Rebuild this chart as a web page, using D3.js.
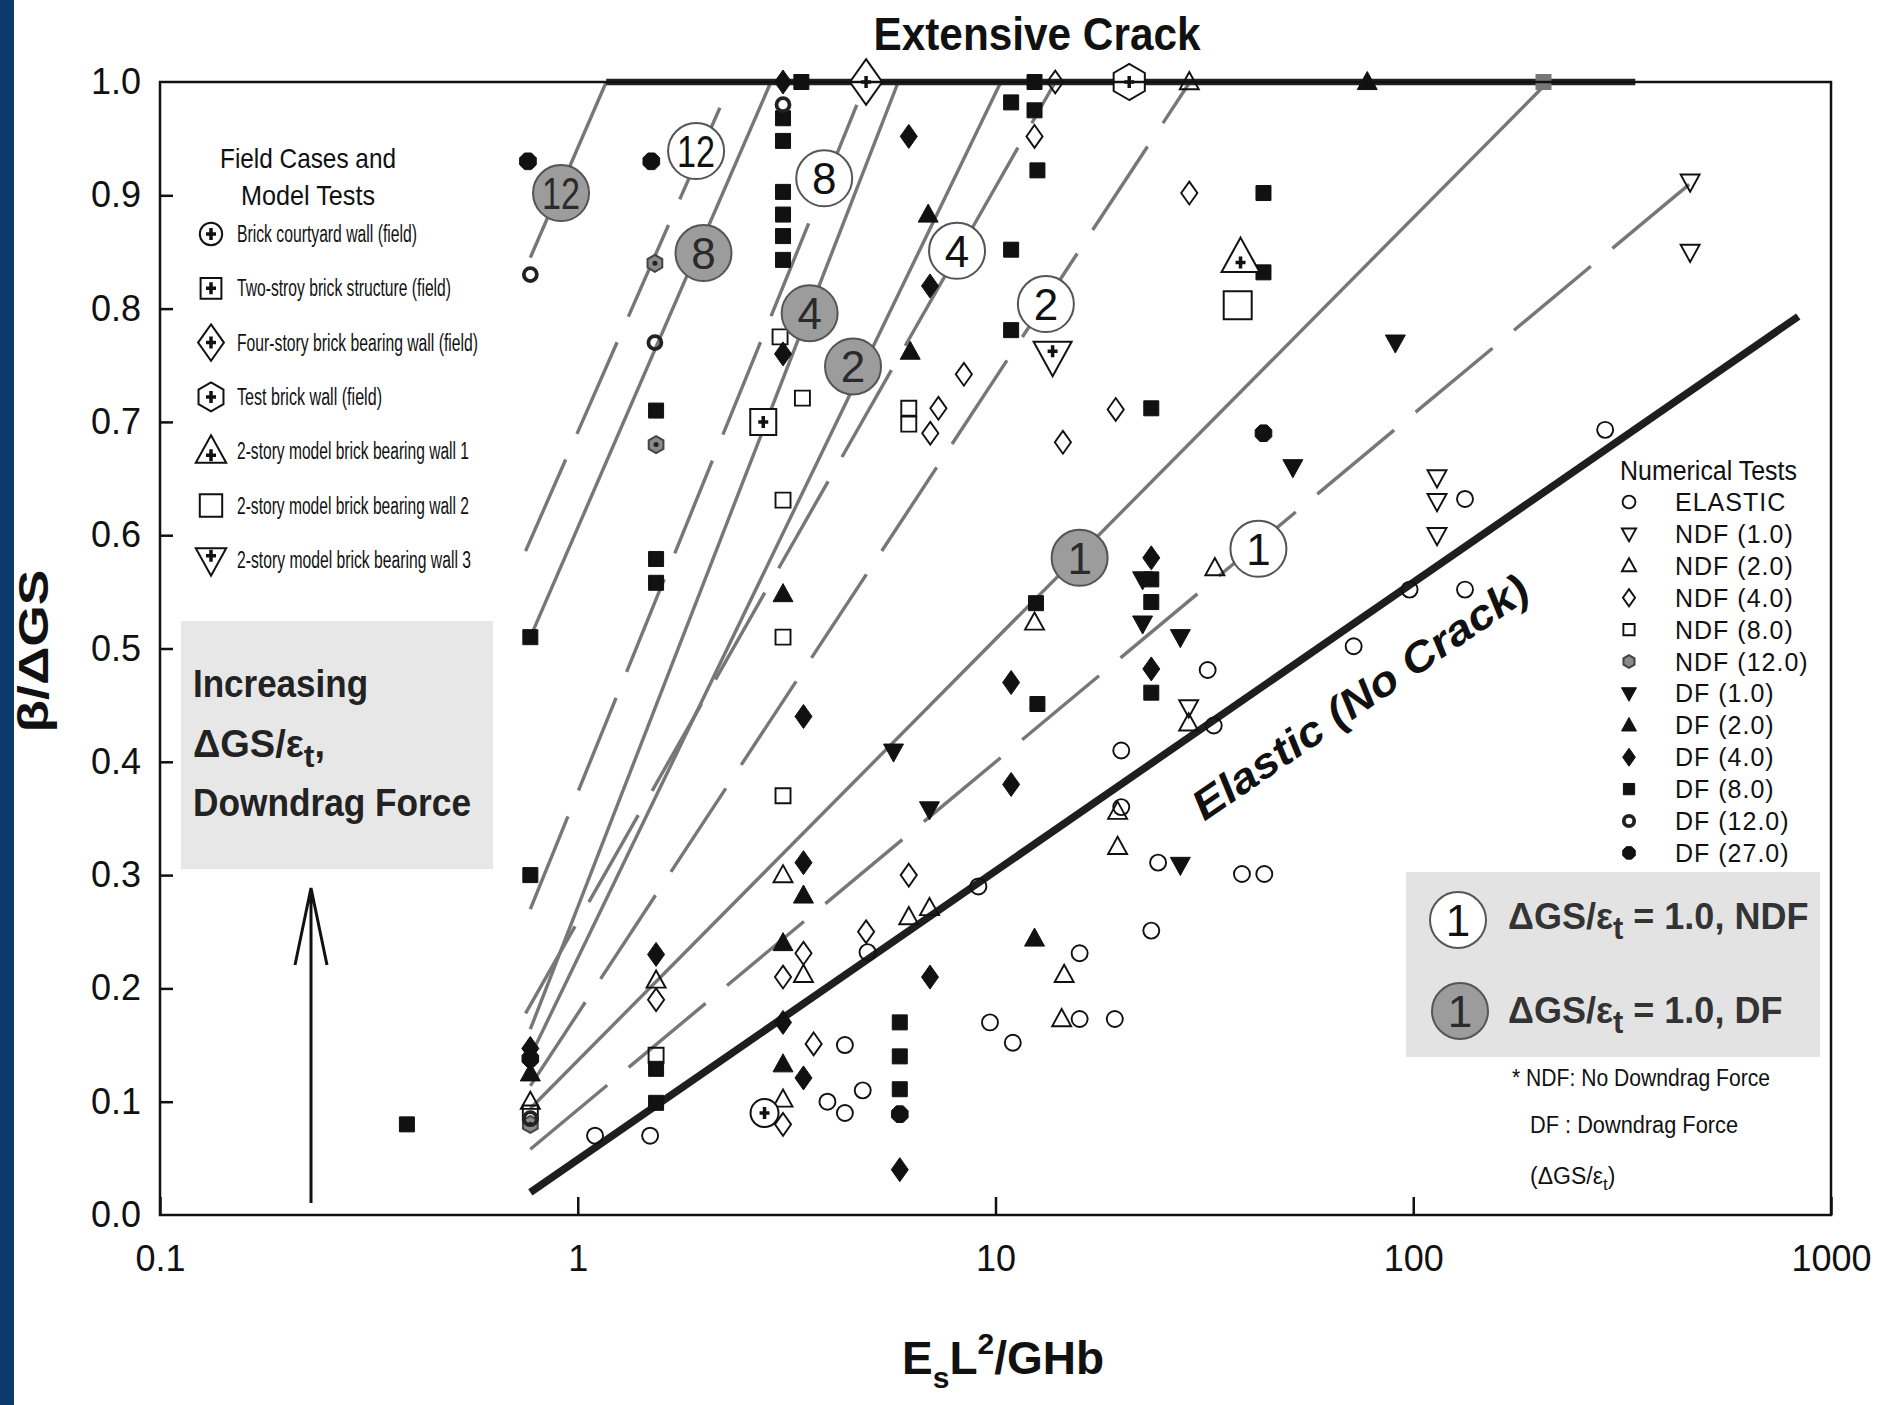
<!DOCTYPE html>
<html>
<head>
<meta charset="utf-8">
<script src="https://cdn.jsdelivr.net/npm/d3@7"></script>
<style>
  body { margin: 0; background: #fff; }
  svg { display: block; }
  text { font-family: "Liberation Sans", Arial, sans-serif; fill: #111; }
</style>
</head>
<body>
<div id="chart"></div>
<script>
// ---- data (E_sL^2/GHb, beta/dGS) ----
const elastic = [[1.10,0.07],[1.49,0.07],[3.96,0.10],[4.36,0.09],[4.81,0.11],[4.36,0.15],[4.94,0.232],[9.1,0.29],[9.7,0.17],[11.0,0.152],[15.9,0.231],[15.9,0.173],[19.3,0.173],[20.0,0.36],[20.0,0.41],[23.6,0.251],[24.5,0.311],[32.2,0.481],[33.3,0.432],[38.9,0.301],[44.0,0.301],[72,0.502],[98,0.552],[133,0.552],[133,0.632],[288,0.693]];
const ndf1 = [[29,0.448],[114,0.651],[114,0.63],[114,0.60],[460,0.912],[460,0.85]];
const ndf2 = [[0.77,0.10],[1.54,0.207],[3.1,0.30],[3.1,0.102],[3.47,0.212],[6.2,0.263],[6.95,0.271],[12.4,0.523],[14.6,0.212],[14.4,0.173],[19.6,0.356],[19.6,0.325],[29,0.434],[33.5,0.571],[29.1,1.0]];
const ndf4 = [[1.54,0.19],[3.1,0.21],[3.1,0.08],[3.47,0.231],[3.67,0.151],[4.9,0.25],[6.2,0.30],[6.98,0.69],[7.3,0.712],[8.4,0.742],[12.4,0.952],[13.9,1.0],[14.5,0.682],[19.4,0.711],[29.1,0.902]];
const ndf8 = [[0.77,0.09],[1.54,0.141],[3.1,0.37],[3.1,0.51],[3.1,0.631],[3.05,0.775],[3.45,0.721],[6.2,0.712],[6.2,0.698]];
const ndf12 = [[0.77,0.08],[1.53,0.84],[1.54,0.68]];
const df1 = [[5.7,0.409],[6.95,0.358],[22.5,0.561],[22.5,0.522],[27.7,0.51],[27.7,0.309],[51.5,0.66],[90.6,0.77]];
const df2 = [[0.77,0.125],[3.1,0.548],[3.1,0.24],[3.1,0.133],[3.47,0.282],[6.25,0.762],[6.9,0.883],[12.4,0.244],[77.6,1.0]];
const df4 = [[0.77,0.147],[1.54,0.23],[3.1,1.0],[3.1,0.76],[3.1,0.17],[3.47,0.44],[3.47,0.311],[3.47,0.121],[5.9,0.04],[6.2,0.952],[6.97,0.82],[6.97,0.21],[10.9,0.47],[10.9,0.38],[23.6,0.58],[23.6,0.482]];
const df8 = [[0.39,0.08],[0.77,0.51],[0.77,0.30],[1.54,0.71],[1.54,0.579],[1.54,0.558],[1.54,0.129],[1.54,0.099],[3.1,0.968],[3.1,0.948],[3.1,0.903],[3.1,0.883],[3.1,0.864],[3.1,0.843],[3.43,1.0],[5.9,0.17],[5.9,0.14],[5.9,0.111],[10.9,0.982],[10.9,0.852],[10.9,0.781],[12.4,1.0],[12.4,0.975],[12.6,0.922],[12.5,0.54],[12.6,0.451],[23.6,0.712],[23.6,0.561],[23.6,0.541],[23.6,0.461],[43.8,0.902],[43.8,0.832]];
const df12 = [[0.77,0.83],[0.77,0.085],[1.53,0.77],[3.1,0.98]];
const df27 = [[0.76,0.93],[1.5,0.93],[0.77,0.138],[5.9,0.089],[43.8,0.69]];
const lineEnds = [[205,1.0]];

const fieldCourtyard = [[2.8,0.09]];
const fieldTwoStory = [[2.78,0.70]];
const fieldFourStory = [[4.9,1.0]];
const fieldTestWall = [[20.9,1.0]];
const modelWall1 = [[38.6,0.845]];
const modelWall2 = [[38.0,0.803]];
const modelWall3 = [[13.7,0.758]];

// trend lines [x0, y0, x1, y1]
const dfLines  = [[0.77,0.845,1.17,1.0],[0.77,0.51,2.9,1.0],[0.77,0.164,5.85,1.0],[0.77,0.14,10.3,1.0],[0.77,0.094,210,1.0]];
const ndfLines = [[0.75,0.586,2.33,1.0],[0.77,0.27,4.9,1.0],[0.75,0.178,13.9,1.0],[0.77,0.114,29.2,1.0],[0.77,0.058,459,0.91]];
const elasticLine = [[0.77,0.02],[835,0.793]];
const crackLine = [[1.17,1.0],[340,1.0]];

// numbered circles [label, x, y]
const ndfLabels = [["12",1.92,0.939],["8",3.89,0.915],["4",8.09,0.851],["2",13.2,0.804],["1",42.6,0.588]];
const dfLabels  = [["12",0.912,0.902],["8",2.0,0.849],["4",3.59,0.796],["2",4.56,0.749],["1",15.9,0.580]];

const xTicks = [0.1, 1, 10, 100, 1000];
const yTicks = [0,0.1,0.2,0.3,0.4,0.5,0.6,0.7,0.8,0.9,1.0];

// ---- setup ----
const W = 1892, H = 1405;
const svg = d3.select("#chart").append("svg").attr("width", W).attr("height", H);

const x = d3.scaleLog().domain([0.1, 1000]).range([160, 1831]);
const y = d3.scaleLinear().domain([0, 1]).range([1215, 82]);

svg.append("rect").attr("x", 0).attr("y", 0).attr("width", 14).attr("height", H).attr("fill", "#0b3a6d");

// shaded boxes
svg.append("rect").attr("x", 181).attr("y", 621).attr("width", 312).attr("height", 248).attr("fill", "#e7e7e7");
svg.append("rect").attr("x", 1406).attr("y", 872).attr("width", 414).attr("height", 185).attr("fill", "#e3e3e3");

// marker shapes
function poly(n, r, rot) {
  const p = d3.range(n).map(i => {
    const a = rot + i * 2 * Math.PI / n;
    return [r * Math.cos(a), r * Math.sin(a)];
  });
  return "M" + p.map(d => d.join(",")).join("L") + "Z";
}
const shapes = {
  circle: r => `M${r},0A${r},${r} 0 1,1 ${-r},0A${r},${r} 0 1,1 ${r},0Z`,
  up: r => `M0,${-r}L${r*0.95},${r*0.72}L${-r*0.95},${r*0.72}Z`,
  down: r => `M0,${r}L${r*0.95},${-r*0.72}L${-r*0.95},${-r*0.72}Z`,
  diamond: r => `M0,${-r*1.2}L${r*0.85},0L0,${r*1.2}L${-r*0.85},0Z`,
  square: r => `M${-r},${-r}H${r}V${r}H${-r}Z`,
  hex: r => poly(6, r, 0),
  hexV: r => poly(6, r, Math.PI / 2),
  oct: r => poly(8, r, Math.PI / 8)
};

const series = [
  { name: "ELASTIC",    data: elastic, shape: "circle",  r: 8,    fill: "none", stroke: "#111", sw: 1.9 },
  { name: "NDF (1.0)",  data: ndf1,    shape: "down",    r: 10,   fill: "none", stroke: "#111", sw: 1.9 },
  { name: "NDF (2.0)",  data: ndf2,    shape: "up",      r: 10,   fill: "none", stroke: "#111", sw: 1.9 },
  { name: "NDF (4.0)",  data: ndf4,    shape: "diamond", r: 9.5,  fill: "none", stroke: "#111", sw: 1.9 },
  { name: "NDF (8.0)",  data: ndf8,    shape: "square",  r: 7.5,  fill: "none", stroke: "#111", sw: 1.9 },
  { name: "NDF (12.0)", data: ndf12,   shape: "hexV",    r: 8.5,  fill: "#8a8a8a", stroke: "#444", sw: 2 },
  { name: "DF (1.0)",   data: df1,     shape: "down",    r: 10.5, fill: "#111", stroke: "#111", sw: 1 },
  { name: "DF (2.0)",   data: df2,     shape: "up",      r: 10.5, fill: "#111", stroke: "#111", sw: 1 },
  { name: "DF (4.0)",   data: df4,     shape: "diamond", r: 10,   fill: "#111", stroke: "#111", sw: 1 },
  { name: "DF (8.0)",   data: df8,     shape: "square",  r: 7.5,  fill: "#111", stroke: "#111", sw: 1 },
  { name: "DF (12.0)",  data: df12,    shape: "circle",  r: 6.5,  fill: "none", stroke: "#222", sw: 3.8 },
  { name: "DF (27.0)",  data: df27,    shape: "oct",     r: 9,    fill: "#111", stroke: "#111", sw: 1 }
];

// ---- lines ----
const gl = svg.append("g").attr("fill", "none").attr("stroke-linecap", "butt");
const line = d3.line().x(d => x(d[0])).y(d => y(d[1]));

gl.selectAll(".df-line").data(dfLines).join("path")
  .attr("d", d => line([[d[0], d[1]], [d[2], d[3]]]))
  .attr("stroke", "#777").attr("stroke-width", 3.4);
gl.selectAll(".ndf-line").data(ndfLines).join("path")
  .attr("d", d => line([[d[0], d[1]], [d[2], d[3]]]))
  .attr("stroke", "#777").attr("stroke-width", 3.4)
  .attr("stroke-dasharray", "100,28");

gl.append("path").attr("d", line(elasticLine)).attr("stroke", "#1e1e1e").attr("stroke-width", 7.5);
gl.append("path").attr("d", line(crackLine)).attr("stroke", "#222").attr("stroke-width", 6.5);

// ---- markers ----
const gm = svg.append("g");
series.forEach(s => {
  gm.selectAll(null).data(s.data).join("path")
    .attr("transform", d => `translate(${x(d[0])},${y(d[1])})`)
    .attr("d", shapes[s.shape](s.r))
    .attr("fill", s.fill).attr("stroke", s.stroke).attr("stroke-width", s.sw);
  if (s.shape === "hexV") {
    gm.selectAll(null).data(s.data).join("circle")
      .attr("cx", d => x(d[0])).attr("cy", d => y(d[1])).attr("r", 2.5).attr("fill", "#222");
  }
});
gm.selectAll(null).data(lineEnds).join("path")
  .attr("transform", d => `translate(${x(d[0])},${y(d[1])})`)
  .attr("d", shapes.square(8)).attr("fill", "#777");

// field cases
const fieldTypes = [
  { label: "Brick courtyard wall (field)",        data: fieldCourtyard, shape: "circle",  r: 14, plus: true,  len: 180 },
  { label: "Two-stroy brick structure (field)",   data: fieldTwoStory,  shape: "square",  r: 13, plus: true,  len: 214 },
  { label: "Four-story brick bearing wall (field)", data: fieldFourStory, shape: "diamond", r: 19, plus: true, len: 241 },
  { label: "Test brick wall (field)",             data: fieldTestWall,  shape: "hexV",    r: 18, plus: true,  len: 145 },
  { label: "2-story model brick bearing wall 1",  data: modelWall1,     shape: "up",      r: 20, plus: true,  len: 232 },
  { label: "2-story model brick bearing wall 2",  data: modelWall2,     shape: "square",  r: 14, plus: false, len: 232 },
  { label: "2-story model brick bearing wall 3",  data: modelWall3,     shape: "down",    r: 20, plus: true,  len: 234 }
];
function drawField(g, f, cx, cy, scale) {
  const r = f.r * scale;
  const t = g.append("g").attr("transform", `translate(${cx},${cy})`);
  t.append("path").attr("d", shapes[f.shape](r)).attr("fill", "#fff").attr("stroke", "#111").attr("stroke-width", 2);
  if (f.plus) {
    const oy = f.shape === "up" ? r * 0.25 : (f.shape === "down" ? -r * 0.25 : 0);
    t.append("path").attr("d", `M-5,${oy}H5M0,${oy - 6}V${oy + 6}`)
      .attr("stroke", "#111").attr("stroke-width", 3.5);
  }
}
fieldTypes.forEach(f => f.data.forEach(d => drawField(gm, f, x(d[0]), y(d[1]), 1)));

// numbered circles
function drawLabels(data, fill) {
  const g = svg.append("g").selectAll("g").data(data).join("g")
    .attr("transform", d => `translate(${x(d[1])},${y(d[2])})`);
  g.append("circle").attr("r", 28).attr("fill", fill).attr("stroke", "#555").attr("stroke-width", 2);
  g.append("text").attr("text-anchor", "middle").attr("dy", "0.36em")
    .style("font-size", "44px").style("fill", fill === "#fff" ? "#111" : "#2a2a2a")
    .attr("textLength", d => d[0].length > 1 ? 38 : null)
    .attr("lengthAdjust", "spacingAndGlyphs")
    .text(d => d[0]);
}
drawLabels(ndfLabels, "#fff");
drawLabels(dfLabels, "#9c9c9c");

// ---- frame and axes ----
svg.append("rect").attr("x", 160).attr("y", 82).attr("width", 1671).attr("height", 1133)
  .attr("fill", "none").attr("stroke", "#111").attr("stroke-width", 2.5);

const yAxis = svg.append("g").attr("transform", "translate(160,0)")
  .call(d3.axisLeft(y).tickValues(yTicks).tickSize(-13).tickPadding(19).tickFormat(d3.format(".1f")));
const xAxis = svg.append("g").attr("transform", "translate(0,1215)")
  .call(d3.axisBottom(x).tickValues(xTicks).tickSize(-18).tickPadding(30).tickFormat(d3.format("~g")));
[yAxis, xAxis].forEach(a => {
  a.select(".domain").remove();
  a.selectAll("line").attr("stroke", "#111").attr("stroke-width", 2.5);
  a.selectAll("text").style("font-size", "36px").style("font-family", "'Liberation Sans', Arial, sans-serif").attr("fill", "#111");
});
yAxis.selectAll(".tick").filter(d => d === 1.0 || d === 0).select("line").remove();

// ---- texts ----
svg.append("text").attr("x", 1037).attr("y", 50).attr("text-anchor", "middle")
  .style("font-size", "46px").style("font-weight", "bold")
  .attr("textLength", 327).attr("lengthAdjust", "spacingAndGlyphs")
  .text("Extensive Crack");

svg.append("text").attr("transform", "translate(48,651) rotate(-90)").attr("text-anchor", "middle")
  .style("font-size", "42px").style("font-weight", "bold")
  .attr("textLength", 163).attr("lengthAdjust", "spacingAndGlyphs")
  .text("β/ΔGS");

const xl = svg.append("text").attr("x", 902).attr("y", 1374)
  .style("font-size", "46px").style("font-weight", "bold");
xl.append("tspan").text("E");
xl.append("tspan").attr("dy", 14).style("font-size", "30px").text("s");
xl.append("tspan").attr("dy", -14).text("L");
xl.append("tspan").attr("dy", -20).style("font-size", "30px").text("2");
xl.append("tspan").attr("dy", 20).text("/GHb");

// Increasing box
const inc = svg.append("g").style("font-weight", "bold").style("font-size", "38px");
inc.append("text").attr("x", 193).attr("y", 697).style("fill", "#222")
  .attr("textLength", 175).attr("lengthAdjust", "spacingAndGlyphs").text("Increasing");
const inc2 = inc.append("text").attr("x", 193).attr("y", 757).style("fill", "#222");
inc2.append("tspan").text("ΔGS/ε");
inc2.append("tspan").attr("dy", 10).style("font-size", "32px").text("t");
inc2.append("tspan").attr("dy", -10).text(",");
inc.append("text").attr("x", 193).attr("y", 816).style("fill", "#222")
  .attr("textLength", 278).attr("lengthAdjust", "spacingAndGlyphs").text("Downdrag Force");

// arrow
svg.append("path").attr("d", "M311,1203V888M295,965L311,888L327,965")
  .attr("fill", "none").attr("stroke", "#111").attr("stroke-width", 3);

// field legend
const fl = svg.append("g");
fl.append("text").attr("x", 308).attr("y", 168).attr("text-anchor", "middle")
  .style("font-size", "28px").attr("textLength", 176).attr("lengthAdjust", "spacingAndGlyphs").text("Field Cases and");
fl.append("text").attr("x", 308).attr("y", 205).attr("text-anchor", "middle")
  .style("font-size", "28px").attr("textLength", 134).attr("lengthAdjust", "spacingAndGlyphs").text("Model Tests");
fieldTypes.forEach((f, i) => {
  const cy = 234 + i * 54.3;
  drawField(fl, f, 211, cy, 0.8);
  fl.append("text").attr("x", 237).attr("y", cy + 8).style("font-size", "23px")
    .attr("textLength", f.len).attr("lengthAdjust", "spacingAndGlyphs").text(f.label);
});

// numerical tests legend
const nl = svg.append("g");
nl.append("text").attr("x", 1620).attr("y", 480).style("font-size", "27px")
  .attr("textLength", 177).attr("lengthAdjust", "spacingAndGlyphs").text("Numerical Tests");
series.forEach((s, i) => {
  const cy = 502 + i * 31.9;
  const k = s.shape === "circle" ? 0.8 : 0.75;
  nl.append("path").attr("transform", `translate(1629,${cy})`).attr("d", shapes[s.shape](s.r * k))
    .attr("fill", s.fill).attr("stroke", s.stroke).attr("stroke-width", s.sw);
  nl.append("text").attr("x", 1675).attr("y", cy + 9).style("font-size", "25px").style("letter-spacing", "1px").text(s.name);
});

// bottom-right key
const key = svg.append("g");
key.append("circle").attr("cx", 1458).attr("cy", 920).attr("r", 28).attr("fill", "#fff").attr("stroke", "#555").attr("stroke-width", 2);
key.append("text").attr("x", 1458).attr("y", 920).attr("dy", "0.36em").attr("text-anchor", "middle").style("font-size", "44px").text("1");
key.append("circle").attr("cx", 1460).attr("cy", 1011).attr("r", 28).attr("fill", "#9c9c9c").attr("stroke", "#555").attr("stroke-width", 2);
key.append("text").attr("x", 1460).attr("y", 1011).attr("dy", "0.36em").attr("text-anchor", "middle").style("font-size", "44px").style("fill", "#2a2a2a").text("1");
[["NDF", 929], ["DF", 1023]].forEach(([lab, by]) => {
  const t = key.append("text").attr("x", 1508).attr("y", by).style("font-size", "36px").style("font-weight", "bold").style("fill", "#333");
  t.append("tspan").text("ΔGS/ε");
  t.append("tspan").attr("dy", 10).style("font-size", "31px").text("t");
  t.append("tspan").attr("dy", -10).text(" = 1.0, " + lab);
});

// footnotes
const fn = svg.append("g").style("font-size", "23px");
fn.append("text").attr("x", 1512).attr("y", 1086).attr("textLength", 258).attr("lengthAdjust", "spacingAndGlyphs").text("* NDF: No Downdrag Force");
fn.append("text").attr("x", 1530).attr("y", 1133).attr("textLength", 208).attr("lengthAdjust", "spacingAndGlyphs").text("DF  : Downdrag Force");
const f3 = fn.append("text").attr("x", 1530).attr("y", 1184);
f3.append("tspan").text("(ΔGS/ε");
f3.append("tspan").attr("dy", 6).style("font-size", "17px").text("t");
f3.append("tspan").attr("dy", -6).text(")");

// elastic label
svg.append("text").attr("transform", "translate(1360,697) rotate(-34.5)").attr("text-anchor", "middle")
  .attr("dy", "0.35em").style("font-size", "42px").style("font-weight", "bold").style("font-style", "italic")
  .attr("textLength", 398).attr("lengthAdjust", "spacingAndGlyphs")
  .text("Elastic (No Crack)");
</script>
</body>
</html>
